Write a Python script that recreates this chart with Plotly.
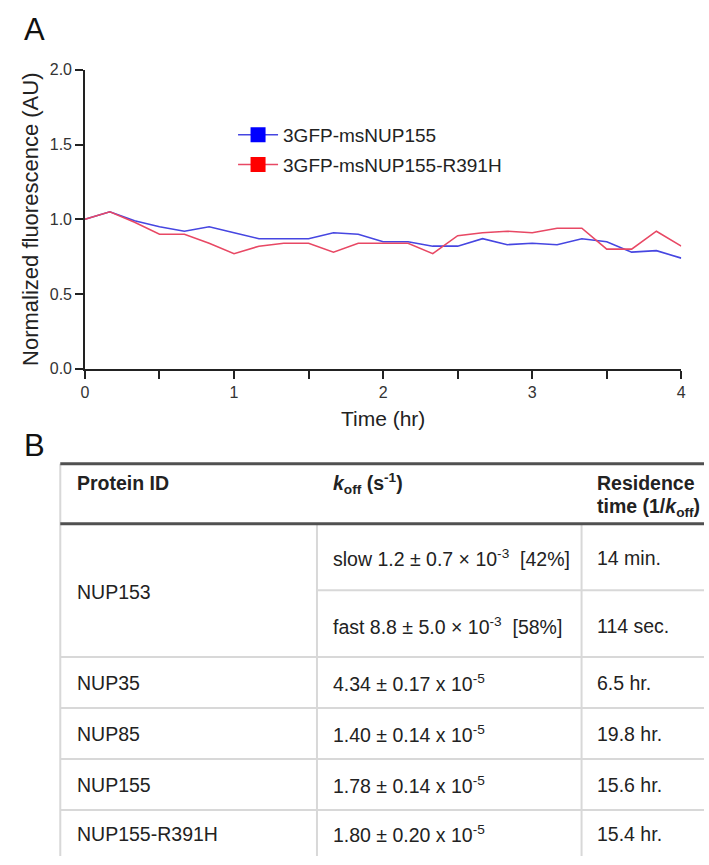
import plotly.graph_objects as go

W, H = 709, 865

# ---------------- data ----------------
time_hr = [0.0, 0.167, 0.333, 0.5, 0.667, 0.833, 1.0, 1.167, 1.333, 1.5, 1.667, 1.833,
           2.0, 2.167, 2.333, 2.5, 2.667, 2.833, 3.0, 3.167, 3.333, 3.5, 3.667, 3.833, 4.0]
wt_vals = [1.00, 1.05, 0.99, 0.95, 0.92, 0.95, 0.91, 0.87, 0.87, 0.87, 0.91, 0.90,
           0.85, 0.85, 0.82, 0.82, 0.87, 0.83, 0.84, 0.83, 0.87, 0.85, 0.78, 0.79, 0.74]
mut_vals = [1.00, 1.05, 0.98, 0.90, 0.90, 0.84, 0.77, 0.82, 0.84, 0.84, 0.78, 0.84,
            0.84, 0.84, 0.77, 0.89, 0.91, 0.92, 0.91, 0.94, 0.94, 0.80, 0.80, 0.92, 0.82]
series_names = ["3GFP-msNUP155", "3GFP-msNUP155-R391H"]

y_ticks = [0.0, 0.5, 1.0, 1.5, 2.0]
x_ticks = [0, 1, 2, 3, 4]

table_header = ["Protein ID",
                "<i>k</i><sub>off</sub> (s<sup>-1</sup>)",
                "Residence",
                "time (1/<i>k</i><sub>off</sub>)"]
protein_ids = ["NUP153", "NUP35", "NUP85", "NUP155", "NUP155-R391H"]
koff_nup153 = ["slow 1.2 ± 0.7 × 10<sup>-3</sup>  [42%]",
               "fast 8.8 ± 5.0 × 10<sup>-3</sup>  [58%]"]
res_nup153 = ["14 min.", "114 sec."]
koff_vals = ["4.34 ± 0.17 x 10<sup>-5</sup>", "1.40 ± 0.14 x 10<sup>-5</sup>",
             "1.78 ± 0.14 x 10<sup>-5</sup>", "1.80 ± 0.20 x 10<sup>-5</sup>"]
res_vals = ["6.5 hr.", "19.8 hr.", "15.6 hr.", "15.4 hr."]

# ---------------- helpers ----------------
def px(x):
    return x / W

def py(y):
    return 1 - y / H

BLUE_LINE = "rgb(70,70,225)"
RED_LINE = "rgb(232,72,100)"
FONT = "Liberation Sans, Arial, sans-serif"

fig = go.Figure()
fig.add_trace(go.Scatter(x=time_hr, y=wt_vals, mode="lines",
                         line=dict(color=BLUE_LINE, width=1.6), showlegend=False))
fig.add_trace(go.Scatter(x=time_hr, y=mut_vals, mode="lines",
                         line=dict(color=RED_LINE, width=1.6), showlegend=False))
# legend entries
fig.add_trace(go.Scatter(x=[None], y=[None], mode="lines+markers", name=series_names[0],
                         line=dict(color=BLUE_LINE, width=1.5),
                         marker=dict(symbol="square", size=15, color="#0000ff"),
                         legendgroup="a"))
fig.add_trace(go.Scatter(x=[None], y=[None], mode="lines+markers", name=series_names[1],
                         line=dict(color=RED_LINE, width=1.5),
                         marker=dict(symbol="square", size=15, color="#ff0000"),
                         legendgroup="b"))

x0, x1 = 82, 686
y_top, y_bot = 63, 368

fig.update_layout(
    width=W, height=H,
    margin=dict(l=0, r=0, t=0, b=0),
    paper_bgcolor="white", plot_bgcolor="white",
    font=dict(family=FONT, color="#222"),
    legend=dict(x=px(232), y=py(110), xanchor="left", yanchor="top",
                font=dict(size=19, color="#222"), tracegroupgap=2,
                bgcolor="rgba(0,0,0,0)", itemwidth=40),
    xaxis=dict(domain=[px(x0), px(x1)], range=[0, 4], showline=True, linecolor="#222",
               linewidth=1.5, ticks="outside", ticklen=8, tickwidth=1.5, tickcolor="#222",
               tickvals=x_ticks, showgrid=False, zeroline=False,
               tickfont=dict(size=16, color="#333", family=FONT),
               minor=dict(dtick=0.5, ticks="outside", ticklen=8, tickwidth=1.5,
                          tickcolor="#222", showgrid=False),
               title=dict(text="Time (hr)", font=dict(size=21, color="#222"),
                          standoff=12)),
    yaxis=dict(domain=[py(y_bot), py(y_top)], range=[0, 2], showline=True, linecolor="#222",
               linewidth=1.5, ticks="outside", ticklen=8, tickwidth=1.5, tickcolor="#222",
               tickvals=y_ticks, tickformat=".1f", showgrid=False, zeroline=False,
               tickfont=dict(size=16, color="#333", family=FONT),
               title=dict(text="Normalized fluorescence (AU)", font=dict(size=22, color="#222"),
                          standoff=5)),
)

ann = []
ann.append(dict(text="A", x=px(18), y=py(22), xref="paper", yref="paper",
                xanchor="left", yanchor="middle", showarrow=False,
                font=dict(size=31, color="#111")))
ann.append(dict(text="B", x=px(18), y=py(446), xref="paper", yref="paper",
                xanchor="left", yanchor="middle", showarrow=False,
                font=dict(size=31, color="#111")))

# ---------------- table ----------------
T_LEFT, T_RIGHT = 57, 709
C1, C2 = 317, 585
Y_TOP, Y_HDR = 465, 526
Y_SPLIT = 594
ROW_LINES = [662, 714, 766, 818]
DARK = "#505050"
LIGHT = "#d8d8d8"

shapes = []
def hline(y, xa, xb, color, width):
    shapes.append(dict(type="line", xref="paper", yref="paper",
                       x0=px(xa), x1=px(xb), y0=py(y), y1=py(y),
                       line=dict(color=color, width=width)))

def vline(x, ya, yb, color, width):
    shapes.append(dict(type="line", xref="paper", yref="paper",
                       x0=px(x), x1=px(x), y0=py(ya), y1=py(yb),
                       line=dict(color=color, width=width)))

vline(T_LEFT, Y_TOP, H, LIGHT, 2)
vline(C1, Y_HDR, H, LIGHT, 2)
vline(C2, Y_HDR, H, LIGHT, 2)
hline(Y_SPLIT, C1, T_RIGHT, LIGHT, 2)
for yl in ROW_LINES:
    hline(yl, T_LEFT, T_RIGHT, LIGHT, 2)
hline(Y_TOP, T_LEFT, T_RIGHT, DARK, 3)
hline(Y_HDR, T_LEFT, T_RIGHT, DARK, 3)

TX = [72, 331, 599]
TFS = 19.5

def cell(text, x, y, bold=False):
    ann.append(dict(text=("<b>%s</b>" % text) if bold else text,
                    x=px(x), y=py(y), xref="paper", yref="paper",
                    xanchor="left", yanchor="middle", showarrow=False,
                    font=dict(size=TFS, color="#222", family=FONT)))

cell(table_header[0], TX[0], 485, bold=True)
cell(table_header[1], TX[1], 485, bold=True)
cell(table_header[2], TX[2], 485, bold=True)
cell(table_header[3], TX[2], 510, bold=True)

cell(protein_ids[0], TX[0], 596)
cell(koff_nup153[0], TX[1], 561)
cell(koff_nup153[1], TX[1], 630)
cell(res_nup153[0], TX[2], 561)
cell(res_nup153[1], TX[2], 630)

row_centers = [689, 741, 793, 843]
for i in range(4):
    cell(protein_ids[i + 1], TX[0], row_centers[i])
    cell(koff_vals[i], TX[1], row_centers[i])
    cell(res_vals[i], TX[2], row_centers[i])

fig.update_layout(shapes=shapes, annotations=ann)
fig.write_html("out.html", config={"displayModeBar": False},
               post_script="document.body.style.margin='0';document.body.style.overflow='hidden';")
